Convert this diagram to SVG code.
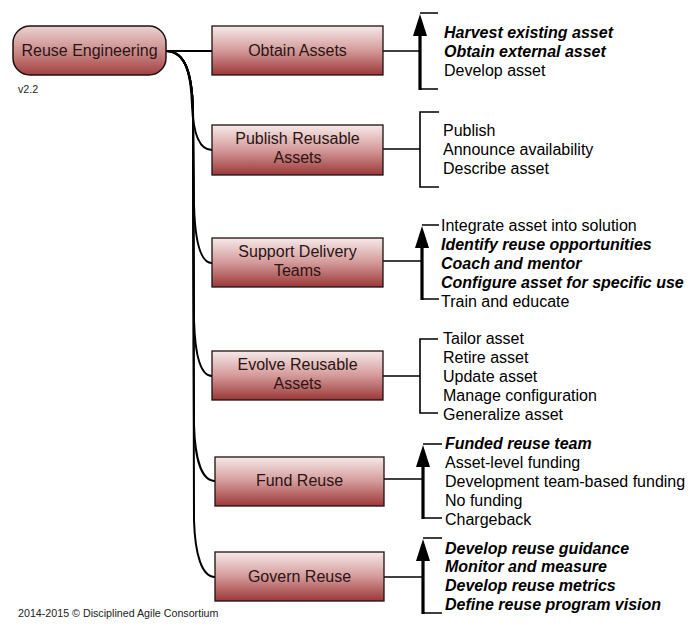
<svg xmlns="http://www.w3.org/2000/svg" width="699" height="635" viewBox="0 0 699 635">
<style>
text{font-family:"Liberation Sans",Arial,sans-serif;}
.node{fill:url(#g);stroke:#1e1010;stroke-width:1.3;}
.nt{font-size:16px;fill:#2a1414;text-anchor:middle;}
.it{font-size:16px;fill:#000;}
.b{font-weight:bold;font-style:italic;}
.c{fill:none;stroke:#000;stroke-width:2;}
.thin{fill:none;stroke:#000;stroke-width:1.6;}
.thick{fill:none;stroke:#000;stroke-width:3.2;}
.small{font-size:10.7px;fill:#222;}
</style>
<defs>
<linearGradient id="g" x1="0" y1="0" x2="0" y2="1">
<stop offset="0" stop-color="#f6e9e9"/>
<stop offset="0.5" stop-color="#d49a9a"/>
<stop offset="1" stop-color="#9c3838"/>
</linearGradient>
<linearGradient id="gr" x1="0" y1="0" x2="0" y2="1">
<stop offset="0" stop-color="#ecd2d2"/>
<stop offset="0.5" stop-color="#cc8e8e"/>
<stop offset="1" stop-color="#a24040"/>
</linearGradient>
<marker id="ah" viewBox="0 -7 22 14" refX="0" refY="0" markerWidth="22" markerHeight="14" markerUnits="userSpaceOnUse" orient="auto">
<path d="M0,-7 L22,0 L0,7 z" fill="#000"/>
</marker>
</defs>

<g id="connectors">
<path class="c" d="M166,51 L212,51"/>
<path class="c" d="M166,51 C186,51 191,75 192,105 C193,130 198,150 212,150"/>
<path class="c" d="M166,51 C186,51 192,75 193,110 L194,205 C195,240 200,263 212,263"/>
<path class="c" d="M166,51 C186,51 192,75 193,110 L194,320 C195,355 200,376 212,376"/>
<path class="c" d="M166,51 C186,51 192,75 193,110 L194,425 C195,460 202,481 215,481"/>
<path class="c" d="M166,51 C186,51 192,75 193,110 L194,520 C195,555 202,577 215,577"/>
<path class="thin" d="M383,51 L420,51"/>
<path class="thin" d="M383,149 L420,149"/>
<path class="thin" d="M383,261 L422,261"/>
<path class="thin" d="M383,376 L420,376"/>
<path class="thin" d="M384,479 L423,479"/>
<path class="thin" d="M384,577 L423,577"/>
</g>

<g id="root">
<rect x="13" y="26" width="153" height="49" rx="17" ry="17" fill="url(#gr)" stroke="#1e1010" stroke-width="1.5"/>
<text class="nt" x="89.5" y="56">Reuse Engineering</text>
</g>
<text class="small" x="18" y="93">v2.2</text>

<g id="obtain">
<rect class="node" x="212" y="26" width="171" height="49"/>
<text class="nt" x="297.5" y="56">Obtain Assets</text>
</g>
<g id="publish">
<rect class="node" x="212" y="125" width="171" height="50"/>
<text class="nt" x="297.5" y="144">Publish Reusable</text>
<text class="nt" x="297.5" y="163">Assets</text>
</g>
<g id="support">
<rect class="node" x="212" y="238" width="171" height="49"/>
<text class="nt" x="297.5" y="257">Support Delivery</text>
<text class="nt" x="297.5" y="276">Teams</text>
</g>
<g id="evolve">
<rect class="node" x="212" y="351" width="171" height="49"/>
<text class="nt" x="297.5" y="370">Evolve Reusable</text>
<text class="nt" x="297.5" y="389">Assets</text>
</g>
<g id="fund">
<rect class="node" x="215" y="457" width="169" height="49"/>
<text class="nt" x="299.5" y="486">Fund Reuse</text>
</g>
<g id="govern">
<rect class="node" x="215" y="552" width="169" height="49"/>
<text class="nt" x="299.5" y="582">Govern Reuse</text>
</g>

<g id="obtain-list">
<path class="thin" d="M438,13 L420,13 M420,89 L438,89"/>
<path class="thick" d="M420,90 L420,36" marker-end="url(#ah)"/>
<text class="it b" x="444" y="38">Harvest existing asset</text>
<text class="it b" x="444" y="57">Obtain external asset</text>
<text class="it" x="444" y="76">Develop asset</text>
</g>
<g id="publish-list">
<path class="thin" d="M439,112 L420,112 L420,187 L439,187"/>
<text class="it" x="443" y="136">Publish</text>
<text class="it" x="443" y="155">Announce availability</text>
<text class="it" x="443" y="174">Describe asset</text>
</g>
<g id="support-list">
<path class="thin" d="M439,225 L422,225 M422,299 L439,299"/>
<path class="thick" d="M422,300 L422,248" marker-end="url(#ah)"/>
<text class="it" x="441" y="231">Integrate asset into solution</text>
<text class="it b" x="441" y="250">Identify reuse opportunities</text>
<text class="it b" x="441" y="269">Coach and mentor</text>
<text class="it b" x="441" y="288">Configure asset for specific use</text>
<text class="it" x="441" y="307">Train and educate</text>
</g>
<g id="evolve-list">
<path class="thin" d="M438,339 L420,339 L420,413 L438,413"/>
<text class="it" x="443" y="344">Tailor asset</text>
<text class="it" x="443" y="363">Retire asset</text>
<text class="it" x="443" y="382">Update asset</text>
<text class="it" x="443" y="401">Manage configuration</text>
<text class="it" x="443" y="420">Generalize asset</text>
</g>
<g id="fund-list">
<path class="thin" d="M442,444 L423,444 M423,518 L442,518"/>
<path class="thick" d="M423,519 L423,467" marker-end="url(#ah)"/>
<text class="it b" x="445" y="449">Funded reuse team</text>
<text class="it" x="445" y="468">Asset-level funding</text>
<text class="it" x="445" y="487">Development team-based funding</text>
<text class="it" x="445" y="506">No funding</text>
<text class="it" x="445" y="525">Chargeback</text>
</g>
<g id="govern-list">
<path class="thin" d="M442,538 L423,538 M423,613 L442,613"/>
<path class="thick" d="M423,614 L423,561" marker-end="url(#ah)"/>
<text class="it b" x="445" y="554">Develop reuse guidance</text>
<text class="it b" x="445" y="572">Monitor and measure</text>
<text class="it b" x="445" y="591">Develop reuse metrics</text>
<text class="it b" x="445" y="610">Define reuse program vision</text>
</g>

<text class="small" x="18" y="617">2014-2015 © Disciplined Agile Consortium</text>
</svg>
